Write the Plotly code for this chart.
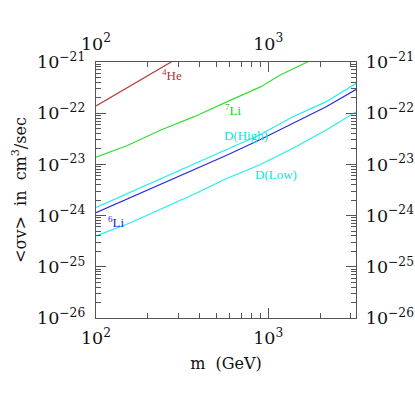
"""Annihilation cross section limits vs. particle mass (log-log)."""

import plotly.graph_objects as go

# Mass grid (GeV) and <sigma v> (cm^3/s), per curve.
HE4_M = [100, 150, 200, 280]
HE4_SV = [1.38e-22, 3.08e-22, 5.42e-22, 1.05e-21]

LI7_M = [100, 152, 238, 372, 579, 908, 1175, 1416, 1687, 1800]
LI7_SV = [1.38e-23, 2.34e-23, 4.70e-23, 8.55e-23, 1.68e-22, 3.30e-22, 5.57e-22, 7.53e-22, 1.0e-21, 1.11e-21]

DHIGH_M = [100, 156, 244, 381, 570, 889, 1393, 2173, 3251]
DHIGH_SV = [1.45e-24, 2.80e-24, 5.36e-24, 1.05e-23, 1.91e-23, 3.75e-23, 8.55e-23, 1.68e-22, 3.84e-22]

LI6_M = [100, 156, 244, 381, 570, 889, 1393, 2173, 3251]
LI6_SV = [1.14e-24, 2.18e-24, 4.28e-24, 8.02e-24, 1.49e-23, 3.0e-23, 6.35e-23, 1.34e-22, 2.93e-22]

DLOW_M = [100, 156, 244, 381, 570, 889, 1393, 2173, 3251]
DLOW_SV = [4.0e-25, 7.08e-25, 1.39e-24, 2.73e-24, 5.24e-24, 9.72e-24, 2.06e-23, 4.70e-23, 1.07e-22]

# Curve labels: text, log10(m), log10(<sigma v>)
LABELS = [
    ("<sup>4</sup>He", 2.442, -21.254),
    ("<sup>7</sup>Li", 2.797, -21.935),
    ("D(High)", 2.872, -22.426),
    ("D(Low)", 3.047, -23.193),
    ("<sup>6</sup>Li", 2.119, -24.125),
]

COLORS = ["#b83a3a", "#33dd33", "#22eeee", "#2a2ae0", "#22eeee"]
LABEL_COLORS = ["#b03030", "#22cc22", "#11e0e0", "#11e0e0", "#2020ee"]

X_RANGE = [2, 3.51]
Y_RANGE = [-26, -21]
X_DECADES = [100, 1000]
Y_DECADES = [1e-26, 1e-25, 1e-24, 1e-23, 1e-22]
FONT = "DejaVu Serif"
LABEL_FONT = "Liberation Serif"

# minor tick positions 2..9 within each decade
MINOR_X = [k * d for d in X_DECADES for k in range(2, 10)]
MINOR_Y = [k * d for d in Y_DECADES for k in range(2, 10)]

fig = go.Figure()
series = [(HE4_M, HE4_SV), (LI7_M, LI7_SV), (DHIGH_M, DHIGH_SV), (LI6_M, LI6_SV), (DLOW_M, DLOW_SV)]
for (m, sv), col in zip(series, COLORS):
    fig.add_scatter(x=m, y=sv, mode="lines", line={"color": col, "width": 1.2},
                    showlegend=False, hoverinfo="skip")

# invisible traces so the overlay axes (top/right labels, minor ticks) get drawn
for xa, ya in [("x2", "y2"), ("x3", "y3"), ("x4", "y4")]:
    fig.add_scatter(x=[HE4_M[0]], y=[HE4_SV[0]], xaxis=xa, yaxis=ya, mode="markers",
                    marker={"opacity": 0}, showlegend=False, hoverinfo="skip")

for (text, lx, ly), col in zip(LABELS, LABEL_COLORS):
    fig.add_annotation(x=lx, y=ly, text=text, showarrow=False,
                       font={"family": LABEL_FONT, "size": 13, "color": col})

tick_font = {"family": FONT, "size": 14, "color": "#111"}
common = dict(
    type="log", showgrid=False, zeroline=False, automargin=False,
    showline=True, linecolor="#555", linewidth=1,
    ticks="inside", tickcolor="#555", tickwidth=1,
)
major = dict(common, dtick=1, exponentformat="power", ticklen=10, tickfont=tick_font)
minor_x = dict(common, tickmode="array", tickvals=MINOR_X, ticklen=5,
               showticklabels=False, range=X_RANGE, overlaying="x", anchor="y")
minor_y = dict(common, tickmode="array", tickvals=MINOR_Y, ticklen=5,
               showticklabels=False, range=Y_RANGE, overlaying="y", anchor="x")

fig.update_layout(
    width=415, height=415,
    margin={"l": 96, "r": 59, "t": 62, "b": 97},
    plot_bgcolor="white", paper_bgcolor="white",
    xaxis={**major, "range": X_RANGE, "ticklabelstandoff": 5,
           "title": {"text": "m  (GeV)", "font": {"family": FONT, "size": 16, "color": "#111"},
                     "standoff": 10}},
    xaxis2={**major, "range": X_RANGE, "overlaying": "x", "side": "top", "anchor": "y",
            "ticklabelstandoff": 5},
    xaxis3={**minor_x, "side": "bottom"},
    xaxis4={**minor_x, "side": "top"},
    yaxis={**major, "range": Y_RANGE, "ticklabelstandoff": 7,
           "title": {"text": "&lt;σv&gt;  in  cm<sup>3</sup>/sec",
                     "font": {"family": FONT, "size": 16, "color": "#111"}, "standoff": 6}},
    yaxis2={**major, "range": Y_RANGE, "overlaying": "y", "side": "right", "anchor": "x",
            "ticklabelstandoff": 6},
    yaxis3={**minor_y, "side": "left"},
    yaxis4={**minor_y, "side": "right"},
)

# drop the page's default margin and scrollbars so the figure sits at the window origin
PAGE_FIX = (
    "document.documentElement.style.overflow='hidden';"
    "document.body.style.overflow='hidden';"
    "document.body.style.margin='0';"
)
fig.write_html("out.html", config={"displayModeBar": False}, post_script=PAGE_FIX)
